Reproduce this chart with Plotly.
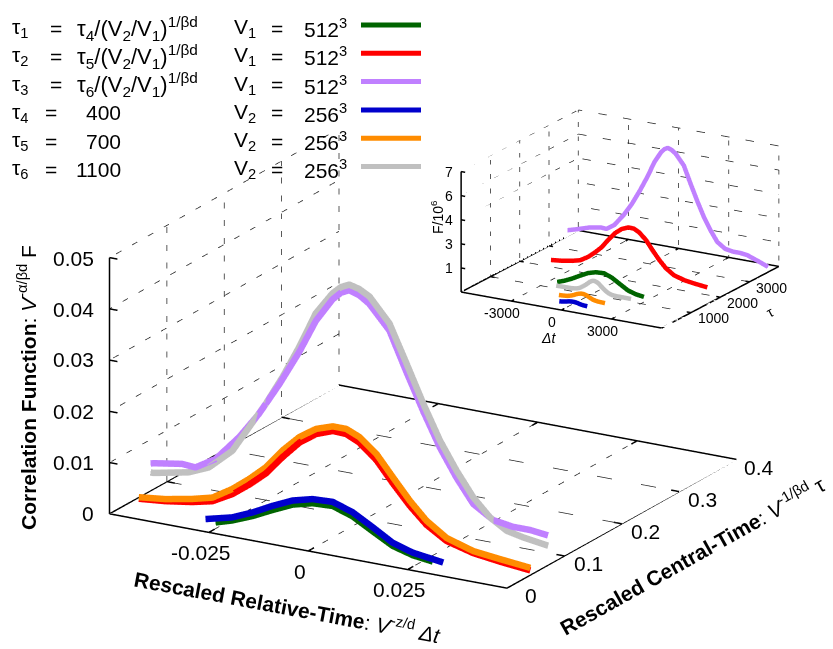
import math
import plotly.graph_objects as go

# ---------------------------------------------------------------------------
# Rescaled data (main panel units):  x = V^{-z/d} Δt ,  z = V^{-α/βd} F
# ---------------------------------------------------------------------------
# V1 = 512^3
green_dt = [-0.0271, -0.0229, -0.0178, -0.0128, -0.0077, -0.0027, 0.0024, 0.0074,
            0.0125, 0.0175, 0.0226, 0.0276]
green_f = [0.0000, 0.0010, 0.0026, 0.0045, 0.0063, 0.0073, 0.0075, 0.0062,
           0.0040, 0.0019, 0.0008, 0.0003]

red_dt = [-0.0492, -0.0425, -0.0358, -0.0307, -0.0257, -0.0214, -0.0172, -0.0130,
          -0.0088, -0.0046, -0.0004, 0.0030, 0.0063, 0.0106, 0.0148, 0.0190,
          0.0232, 0.0282, 0.0349, 0.0417, 0.0493]
red_f = [0.0002, 0.0007, 0.0015, 0.0024, 0.0045, 0.0070, 0.0098, 0.0136,
         0.0170, 0.0193, 0.0205, 0.0204, 0.0192, 0.0164, 0.0124, 0.0087,
         0.0056, 0.0032, 0.0018, 0.0011, 0.0005]

purple_dt = [-0.0650, -0.0570, -0.0492, -0.0421, -0.0387, -0.0336, -0.0277, -0.0227,
             -0.0176, -0.0126, -0.0084, -0.0042, -0.0021, 0.0000, 0.0025, 0.0050,
             0.0101, 0.0144, 0.0186, 0.0228, 0.0270, 0.0312, 0.0362, 0.0412,
             0.0455, 0.0500, 0.0570, 0.0650]
purple_f = [0.0022, 0.0038, 0.0055, 0.0064, 0.0062, 0.0086, 0.0137, 0.0190,
            0.0255, 0.0325, 0.0392, 0.0440, 0.0456, 0.0464, 0.0458, 0.0445,
            0.0400, 0.0325, 0.0255, 0.0190, 0.0137, 0.0092, 0.0068, 0.0062,
            0.0062, 0.0058, 0.0040, 0.0018]

# V2 = 256^3
blue_dt = [-0.0296, -0.0229, -0.0178, -0.0128, -0.0077, -0.0027, 0.0024, 0.0074,
           0.0125, 0.0175, 0.0226, 0.0302]
blue_f = [0.0003, 0.0016, 0.0033, 0.0053, 0.0071, 0.0081, 0.0083, 0.0070,
          0.0048, 0.0025, 0.0013, 0.0005]

orange_dt = [-0.0492, -0.0425, -0.0358, -0.0307, -0.0257, -0.0214, -0.0172, -0.0130,
             -0.0088, -0.0046, -0.0004, 0.0030, 0.0063, 0.0106, 0.0148, 0.0190,
             0.0232, 0.0282, 0.0349, 0.0417, 0.0493]
orange_f = [0.0005, 0.0011, 0.0021, 0.0031, 0.0055, 0.0081, 0.0110, 0.0149,
            0.0181, 0.0203, 0.0214, 0.0214, 0.0203, 0.0176, 0.0136, 0.0097,
            0.0064, 0.0038, 0.0022, 0.0016, 0.0010]

gray_dt = [-0.0800, -0.0650, -0.0492, -0.0404, -0.0353, -0.0294, -0.0252, -0.0210,
           -0.0168, -0.0126, -0.0084, -0.0042, -0.0021, 0.0000, 0.0025, 0.0051,
           0.0101, 0.0144, 0.0186, 0.0228, 0.0270, 0.0312, 0.0354, 0.0396,
           0.0438, 0.0500, 0.0650, 0.0800]
gray_f = [0.0030, 0.0033, 0.0036, 0.0050, 0.0067, 0.0108, 0.0160, 0.0212,
          0.0270, 0.0335, 0.0407, 0.0452, 0.0467, 0.0475, 0.0470, 0.0459,
          0.0414, 0.0342, 0.0270, 0.0204, 0.0151, 0.0105, 0.0072, 0.0052,
          0.0045, 0.0038, 0.0036, 0.0032]

# central times
TAU_V1 = [1320, 2310, 3630]      # τ1, τ2, τ3
TAU_V2 = [400, 700, 1100]        # τ4, τ5, τ6

# volume rescaling factors
TAU_RESCALE_V1 = 1.97e-5         # V1^{-1/βd}
TAU_RESCALE_V2 = 6.5e-5          # V2^{-1/βd}
DT_SCALE_V1 = 95000.0            # V1^{z/d}
DT_SCALE_V2 = 28000.0            # V2^{z/d}
F_SCALE_V1 = 1.33e8              # V1^{α/βd}
F_SCALE_V2 = 1.5e7               # V2^{α/βd}

# axes
MAIN_X_RANGE = [-0.05, 0.05]
MAIN_Y_RANGE = [0.0, 0.4]
MAIN_Z_RANGE = [0.0, 0.05]
MAIN_X_TICKS = [-0.025, 0.0, 0.025]
MAIN_X_LABELS = ["-0.025", "0", "0.025"]
MAIN_Y_TICKS = [0.0, 0.1, 0.2, 0.3, 0.4]
MAIN_Y_LABELS = ["0", "0.1", "0.2", "0.3", "0.4"]
MAIN_Z_TICKS = [0.0, 0.01, 0.02, 0.03, 0.04, 0.05]
MAIN_Z_LABELS = ["0", "0.01", "0.02", "0.03", "0.04", "0.05"]

INSET_X_RANGE = [-6000, 6000]
INSET_Y_RANGE = [0, 4000]
INSET_Z_RANGE = [0, 7]
INSET_X_TICKS = [-3000, 0, 3000]
INSET_X_LABELS = ["-3000", "0", "3000"]
INSET_Y_TICKS = [1000, 2000, 3000, 4000]
INSET_Y_LABELS = ["1000", "2000", "3000", ""]
INSET_Z_TICKS = [1.4, 2.8, 4.2, 5.6, 7.0]
INSET_Z_LABELS = ["1", "3", "4", "6", "7"]

GREEN, RED, PURPLE = "#006400", "#ff0000", "#c080ff"
BLUE, ORANGE, GRAY = "#0000cc", "#ff8c00", "#c0c0c0"

runs = [
    # dt, f, tau, vol, colour
    (green_dt, green_f, TAU_V1[0], "V1", GREEN),
    (red_dt, red_f, TAU_V1[1], "V1", RED),
    (purple_dt, purple_f, TAU_V1[2], "V1", PURPLE),
    (blue_dt, blue_f, TAU_V2[0], "V2", BLUE),
    (orange_dt, orange_f, TAU_V2[1], "V2", ORANGE),
    (gray_dt, gray_f, TAU_V2[2], "V2", GRAY),
]
tau_rescale = {"V1": TAU_RESCALE_V1, "V2": TAU_RESCALE_V2}
dt_scale = {"V1": DT_SCALE_V1, "V2": DT_SCALE_V2}
f_scale = {"V1": F_SCALE_V1, "V2": F_SCALE_V2}

FONT = "Liberation Sans, Arial, Helvetica, sans-serif"
W, H = 833.0, 649.0

fig = go.Figure()


def segs_to_xyz(segs):
    xs, ys, zs = [], [], []
    for a, b in segs:
        xs += [a[0], b[0], None]
        ys += [a[1], b[1], None]
        zs += [a[2], b[2], None]
    return xs, ys, zs


def add_frame(scene, xr, yr, zr, xt, yt, zt, back_wall, grid_w, border_w):
    x0, x1 = xr
    y0, y1 = yr
    z0, z1 = zr
    # dotted grid
    grid = []
    for yv in yt:
        if y0 < yv < y1:
            grid.append(((x0, yv, z0), (x1, yv, z0)))
        if yv > y0:
            grid.append(((x0, yv, z0), (x0, yv, z1)))
    for xv in xt:
        if x0 < xv < x1:
            grid.append(((xv, y0, z0), (xv, y1, z0)))
    for zv in zt:
        if zv > z0:
            grid.append(((x0, y0, zv), (x0, y1, zv)))
    if back_wall:
        for zv in zt:
            if zv > z0:
                grid.append(((x0, y1, zv), (x1, y1, zv)))
        for xv in list(xt) + [x1]:
            grid.append(((xv, y1, z0), (xv, y1, z1)))
    gx, gy, gz = segs_to_xyz(grid)
    fig.add_trace(go.Scatter3d(x=gx, y=gy, z=gz, mode="lines", scene=scene,
                               line=dict(color="#222222", width=grid_w, dash="dot"),
                               hoverinfo="skip", showlegend=False))
    # solid border: base rectangle + vertical z axis
    border = [((x0, y0, z0), (x1, y0, z0)), ((x1, y0, z0), (x1, y1, z0)),
              ((x1, y1, z0), (x0, y1, z0)), ((x0, y1, z0), (x0, y0, z0)),
              ((x0, y0, z0), (x0, y0, z1))]
    # tick marks (mirrored on the opposite base edges)
    lx = 0.02 * (x1 - x0)
    ly = 0.025 * (y1 - y0)
    for xv in xt:
        border.append(((xv, y0, z0), (xv, y0 + ly, z0)))
        border.append(((xv, y1, z0), (xv, y1 - ly, z0)))
    for yv in yt:
        if y0 < yv < y1:
            border.append(((x1, yv, z0), (x1 - lx, yv, z0)))
            border.append(((x0, yv, z0), (x0 + lx, yv, z0)))
    for zv in zt:
        if zv > z0:
            border.append(((x0, y0, zv), (x0 + lx, y0, zv)))
    bx, by, bz = segs_to_xyz(border)
    fig.add_trace(go.Scatter3d(x=bx, y=by, z=bz, mode="lines", scene=scene,
                               line=dict(color="black", width=border_w),
                               hoverinfo="skip", showlegend=False))


add_frame("scene", MAIN_X_RANGE, MAIN_Y_RANGE, MAIN_Z_RANGE,
          MAIN_X_TICKS, MAIN_Y_TICKS, MAIN_Z_TICKS, False, 1.5, 3)
add_frame("scene2", INSET_X_RANGE, INSET_Y_RANGE, INSET_Z_RANGE,
          INSET_X_TICKS, INSET_Y_TICKS, INSET_Z_TICKS, True, 1.5, 3)

# curves: rescaled in the main panel, raw in the inset
for dt, f, tau, vol, col in runs:
    fig.add_trace(go.Scatter3d(
        x=dt, y=[tau * tau_rescale[vol]] * len(dt), z=f,
        mode="lines", scene="scene", line=dict(color=col, width=13),
        hoverinfo="skip", showlegend=False))
    fig.add_trace(go.Scatter3d(
        x=[v * dt_scale[vol] for v in dt], y=[tau] * len(dt),
        z=[v * f_scale[vol] / 1e6 for v in f],
        mode="lines", scene="scene2", line=dict(color=col, width=9),
        hoverinfo="skip", showlegend=False))


def axis(rng):
    return dict(range=rng, showticklabels=False, showgrid=False, zeroline=False,
                showline=False, showbackground=False, showspikes=False, ticks="",
                title=dict(text=""))


def eye(theta, phi, r):
    t, p = math.radians(theta), math.radians(phi)
    return dict(x=r * math.cos(t) * math.cos(p), y=r * math.cos(t) * math.sin(p),
                z=r * math.sin(t))


ZOOM = 1.58
fig.update_layout(
    width=833, height=649, margin=dict(l=0, r=0, t=0, b=0),
    paper_bgcolor="white", plot_bgcolor="white", showlegend=False,
    font=dict(family=FONT, size=21, color="black"),
    scene=dict(
        domain=dict(x=[0.0156, 1.0], y=[0.0, 0.8952]),
        xaxis=axis(MAIN_X_RANGE), yaxis=axis(MAIN_Y_RANGE), zaxis=axis(MAIN_Z_RANGE),
        aspectmode="manual", aspectratio=dict(x=ZOOM, y=ZOOM, z=0.59 * ZOOM),
        camera=dict(eye=eye(18.9, -60, 2.0), up=dict(x=0, y=0, z=1),
                    center=dict(x=0, y=0, z=0), projection=dict(type="orthographic")),
        bgcolor="rgba(0,0,0,0)",
    ),
    scene2=dict(
        domain=dict(x=[0.4886, 1.0], y=[0.435, 0.8886]),
        xaxis=axis(INSET_X_RANGE), yaxis=axis(INSET_Y_RANGE), zaxis=axis(INSET_Z_RANGE),
        aspectmode="manual", aspectratio=dict(x=ZOOM, y=ZOOM, z=0.545 * ZOOM),
        camera=dict(eye=eye(17.9, -59.7, 2.0), up=dict(x=0, y=0, z=1),
                    center=dict(x=0, y=0, z=0), projection=dict(type="orthographic")),
        bgcolor="rgba(0,0,0,0)",
    ),
)


def px(x):
    return x / W


def py(y):
    return 1 - y / H


ann = []


def text(x, y, s, size=21, xanchor="left", angle=0, yanchor="middle"):
    ann.append(dict(x=px(x), y=py(y), xref="paper", yref="paper", text=s, showarrow=False,
                    xanchor=xanchor, yanchor=yanchor, textangle=angle,
                    font=dict(family=FONT, size=size, color="black")))


# screen frame of each box (pixel origin at x0,y0,z0 and pixel span of each axis)
MAIN_FRAME = dict(o=(111, 513), ex=(396, 74), ey=(228, -128), ez=(0, -255))
INSET_FRAME = dict(o=(462, 292), ex=(200, 36), ey=(116, -61), ez=(0, -120))


def to_screen(frame, xr, yr, zr, x, y, z):
    fx = (x - xr[0]) / (xr[1] - xr[0])
    fy = (y - yr[0]) / (yr[1] - yr[0])
    fz = (z - zr[0]) / (zr[1] - zr[0])
    sx = frame["o"][0] + fx * frame["ex"][0] + fy * frame["ey"][0] + fz * frame["ez"][0]
    sy = frame["o"][1] + fx * frame["ex"][1] + fy * frame["ey"][1] + fz * frame["ez"][1]
    return sx, sy


def tick_labels(frame, xr, yr, zr, xt, xl, yt, yl, zt, zl, size, xoff, yoff, zgap):
    for v, s in zip(xt, xl):
        sx, sy = to_screen(frame, xr, yr, zr, v, yr[0], zr[0])
        text(sx + xoff[0], sy + xoff[1], s, size=size, xanchor="center")
    for v, s in zip(yt, yl):
        if s:
            sx, sy = to_screen(frame, xr, yr, zr, xr[1], v, zr[0])
            text(sx + yoff[0], sy + yoff[1], s, size=size, xanchor="center")
    for v, s in zip(zt, zl):
        sx, sy = to_screen(frame, xr, yr, zr, xr[0], yr[0], v)
        text(sx - zgap, sy, s, size=size, xanchor="right")


tick_labels(MAIN_FRAME, MAIN_X_RANGE, MAIN_Y_RANGE, MAIN_Z_RANGE,
            MAIN_X_TICKS, MAIN_X_LABELS, MAIN_Y_TICKS, MAIN_Y_LABELS,
            MAIN_Z_TICKS, MAIN_Z_LABELS, 21, (-9, 21), (24, 8.5), 15)
tick_labels(INSET_FRAME, INSET_X_RANGE, INSET_Y_RANGE, INSET_Z_RANGE,
            INSET_X_TICKS, INSET_X_LABELS, INSET_Y_TICKS, INSET_Y_LABELS,
            INSET_Z_TICKS, INSET_Z_LABELS, 14, (-10, 12), (22.5, 5.5), 7)

# key block
key_rows = [
    ("τ<sub>1</sub>", "τ<sub>4</sub>/(V<sub>2</sub>/V<sub>1</sub>)<sup>1/βd</sup>", "V<sub>1</sub>", "512<sup>3</sup>", GREEN),
    ("τ<sub>2</sub>", "τ<sub>5</sub>/(V<sub>2</sub>/V<sub>1</sub>)<sup>1/βd</sup>", "V<sub>1</sub>", "512<sup>3</sup>", RED),
    ("τ<sub>3</sub>", "τ<sub>6</sub>/(V<sub>2</sub>/V<sub>1</sub>)<sup>1/βd</sup>", "V<sub>1</sub>", "512<sup>3</sup>", PURPLE),
    ("τ<sub>4</sub>", str(TAU_V2[0]), "V<sub>2</sub>", "256<sup>3</sup>", BLUE),
    ("τ<sub>5</sub>", str(TAU_V2[1]), "V<sub>2</sub>", "256<sup>3</sup>", ORANGE),
    ("τ<sub>6</sub>", str(TAU_V2[2]), "V<sub>2</sub>", "256<sup>3</sup>", GRAY),
]
shapes = []
for i, (lab, val, vlab, vval, col) in enumerate(key_rows):
    yc = 28 + 28.3 * i
    text(10, yc, lab)
    if i < 3:
        text(56, yc, "=", xanchor="center")
        text(75, yc, val, size=22)
    else:
        text(51, yc, "=", xanchor="center")
        text(123, yc, val, xanchor="right")
    text(232, yc, vlab)
    text(277, yc, "=", xanchor="center")
    text(302, yc, vval)
    ys = py(25 + 28.3 * i)
    shapes.append(dict(type="line", xref="paper", yref="paper", x0=px(361), x1=px(421),
                       y0=ys, y1=ys, line=dict(color=col, width=5)))

# axis titles
text(287, 606, "<b>Rescaled Relative-Time</b>: <i>V</i><sup>-z/d</sup> <i>Δt</i>",
     xanchor="center", angle=10.6)
text(692, 555, "<b>Rescaled Central-Time</b>: <i>V</i><sup>-1/βd</sup> τ",
     xanchor="center", angle=-29.3)
text(27, 388, "<b>Correlation Function</b>: <i>V</i><sup>-α/βd</sup> F",
     xanchor="center", angle=-90)
text(548, 338, "<i>Δt</i>", size=14, xanchor="center")
text(770, 312, "τ", size=14, xanchor="center", angle=-28)
text(437, 217, "F/10<sup>6</sup>", size=14, xanchor="center", angle=-90)

fig.update_layout(annotations=ann, shapes=shapes)
fig.write_html("out.html")
